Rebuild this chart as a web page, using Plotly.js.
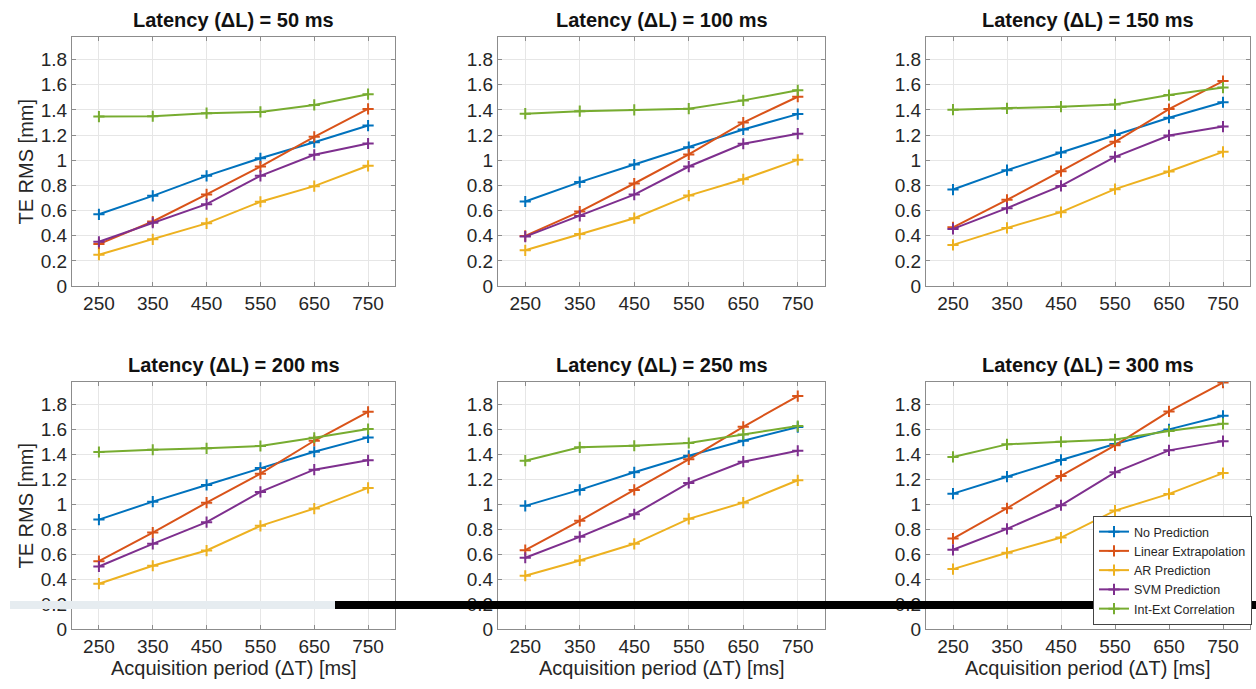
<!DOCTYPE html>
<html>
<head>
<meta charset="utf-8">
<script src="https://cdn.plot.ly/plotly-3.0.1.min.js"></script>
<style>html,body{margin:0;padding:0;background:#fff;}#chart{width:1256px;height:689px;}</style>
</head>
<body>
<div id="chart"></div>
<script>
// Data
const periods = [250, 350, 450, 550, 650, 750];
const latencies = [50, 100, 150, 200, 250, 300];
const seriesNames = ["No Prediction", "Linear Extrapolation", "AR Prediction", "SVM Prediction", "Int-Ext Correlation"];
const seriesColors = ["#0072BD", "#D95319", "#EDB120", "#7E2F8E", "#77AC30"];

const noPrediction = [
  [0.57, 0.717, 0.876, 1.016, 1.143, 1.276],
  [0.672, 0.826, 0.966, 1.104, 1.245, 1.367],
  [0.767, 0.921, 1.062, 1.20, 1.338, 1.461],
  [0.877, 1.021, 1.155, 1.291, 1.421, 1.536],
  [0.987, 1.115, 1.256, 1.389, 1.509, 1.619],
  [1.085, 1.221, 1.355, 1.483, 1.60, 1.709]
];
const linearExtrapolation = [
  [0.333, 0.513, 0.728, 0.950, 1.186, 1.408],
  [0.398, 0.592, 0.815, 1.046, 1.30, 1.505],
  [0.467, 0.685, 0.913, 1.147, 1.407, 1.63],
  [0.544, 0.773, 1.013, 1.245, 1.509, 1.741],
  [0.632, 0.867, 1.115, 1.36, 1.621, 1.867],
  [0.725, 0.968, 1.227, 1.472, 1.744, 1.975]
];
const arPrediction = [
  [0.249, 0.371, 0.498, 0.670, 0.794, 0.956],
  [0.284, 0.414, 0.539, 0.719, 0.849, 1.003],
  [0.327, 0.462, 0.587, 0.77, 0.911, 1.067],
  [0.363, 0.507, 0.629, 0.827, 0.965, 1.131],
  [0.427, 0.549, 0.683, 0.883, 1.013, 1.192],
  [0.48, 0.611, 0.733, 0.949, 1.083, 1.25]
];
const svmPrediction = [
  [0.352, 0.503, 0.651, 0.876, 1.043, 1.133],
  [0.393, 0.557, 0.727, 0.950, 1.131, 1.211],
  [0.454, 0.619, 0.796, 1.027, 1.197, 1.268],
  [0.501, 0.683, 0.856, 1.099, 1.277, 1.352],
  [0.571, 0.739, 0.92, 1.171, 1.341, 1.429],
  [0.635, 0.803, 0.992, 1.256, 1.432, 1.506]
];
const intExtCorrelation = [
  [1.347, 1.35, 1.374, 1.384, 1.44, 1.525],
  [1.37, 1.39, 1.40, 1.41, 1.476, 1.556],
  [1.402, 1.412, 1.426, 1.444, 1.518, 1.578],
  [1.419, 1.437, 1.448, 1.467, 1.533, 1.603],
  [1.349, 1.456, 1.469, 1.491, 1.56, 1.627],
  [1.379, 1.48, 1.501, 1.52, 1.587, 1.645]
];
const yTickVals = [0, 0.2, 0.4, 0.6, 0.8, 1, 1.2, 1.4, 1.6, 1.8];
const yTickText = ["0", "0.2", "0.4", "0.6", "0.8", "1", "1.2", "1.4", "1.6", "1.8"];
const yTitle = "TE RMS [mm]";
const xTitle = "Acquisition period (\u0394T) [ms]";

// Layout geometry (pixels)
const W = 1256, H = 689;
const colPx = [[72, 395], [498, 825], [926, 1250]];
const rowPx = [[37, 286], [382, 629]];

const allSeries = [noPrediction, linearExtrapolation, arPrediction, svmPrediction, intExtCorrelation];
const font = "Liberation Sans, Arial, sans-serif";
const txtCol = "#262626";
const traces = [];
const layout = {
  width: W, height: H,
  margin: {l: 0, r: 0, t: 0, b: 0},
  paper_bgcolor: "#fff", plot_bgcolor: "#fff",
  font: {family: font, color: txtCol},
  showlegend: true,
  legend: {
    x: 1252 / W, xanchor: "right", y: 1 - 625 / H, yanchor: "bottom",
    bgcolor: "#fff", bordercolor: "#444", borderwidth: 1,
    font: {family: font, size: 12.5, color: txtCol},
    tracegroupgap: 0, itemwidth: 30
  },
  annotations: [], shapes: []
};

latencies.forEach((lat, i) => {
  const r = Math.floor(i / 3), c = i % 3;
  const idx = i + 1;
  const xa = "xaxis" + (idx === 1 ? "" : idx), ya = "yaxis" + (idx === 1 ? "" : idx);
  const xr = "x" + (idx === 1 ? "" : idx), yr = "y" + (idx === 1 ? "" : idx);
  layout[xa] = {
    domain: [colPx[c][0] / W, colPx[c][1] / W], anchor: yr,
    range: [200, 800], tickvals: periods, ticktext: periods.map(String),
    showgrid: true, gridcolor: "#e6e6e6", zeroline: false,
    showline: true, linecolor: "#8c8c8c", linewidth: 1, mirror: "ticks",
    ticks: "inside", ticklen: 4, tickcolor: "#8c8c8c",
    tickfont: {size: 19, family: font, color: txtCol}, automargin: false,
    fixedrange: true
  };
  layout[ya] = {
    domain: [1 - rowPx[r][1] / H, 1 - rowPx[r][0] / H], anchor: xr,
    range: [0, 1.98], tickvals: yTickVals, ticktext: yTickText,
    showgrid: true, gridcolor: "#e6e6e6", zeroline: false,
    showline: true, linecolor: "#8c8c8c", linewidth: 1, mirror: "ticks",
    ticks: "inside", ticklen: 4, tickcolor: "#8c8c8c",
    tickfont: {size: 19, family: font, color: txtCol}, automargin: false,
    fixedrange: true
  };
  if (c === 0) {
    layout.annotations.push({
      text: yTitle, xref: "paper", yref: "paper",
      x: 25 / W, y: 1 - (rowPx[r][0] + rowPx[r][1]) / 2 / H,
      textangle: -90, xanchor: "center", yanchor: "middle", showarrow: false,
      font: {size: 20, family: font, color: txtCol}
    });
  }
  if (r === 1) {
    layout.annotations.push({
      text: xTitle, xref: "paper", yref: "paper",
      x: (colPx[c][0] + colPx[c][1]) / 2 / W, y: 1 - 668 / H,
      xanchor: "center", yanchor: "middle", showarrow: false,
      font: {size: 20, family: font, color: txtCol}
    });
  }
  layout.annotations.push({
    text: "<b>Latency (\u0394L) = " + lat + " ms</b>",
    xref: "paper", yref: "paper",
    x: (colPx[c][0] + colPx[c][1]) / 2 / W, y: 1 - (rowPx[r][0] - 17) / H,
    xanchor: "center", yanchor: "middle", showarrow: false,
    font: {size: 20, family: font, color: "#111"}
  });
  allSeries.forEach((s, k) => {
    traces.push({
      type: "scatter", mode: "lines+markers",
      x: periods, y: s[i], xaxis: xr, yaxis: yr,
      name: seriesNames[k], legendgroup: seriesNames[k],
      showlegend: i === 0,
      line: {color: seriesColors[k], width: 2},
      marker: {symbol: "cross-thin", size: 8, color: seriesColors[k], line: {color: seriesColors[k], width: 2}}
    });
  });
});

// Overlay artifacts present in the reference image
layout.shapes.push({type: "rect", xref: "paper", yref: "paper", x0: 10 / W, x1: 335 / W, y0: 1 - 609 / H, y1: 1 - 601 / H, fillcolor: "#e6ecf0", line: {width: 0}, layer: "above"});
layout.shapes.push({type: "rect", xref: "paper", yref: "paper", x0: 335 / W, x1: 1, y0: 1 - 609 / H, y1: 1 - 601 / H, fillcolor: "#000", line: {width: 0}, layer: "above"});

Plotly.newPlot("chart", traces, layout, {staticPlot: true, displayModeBar: false});
</script>
</body>
</html>
